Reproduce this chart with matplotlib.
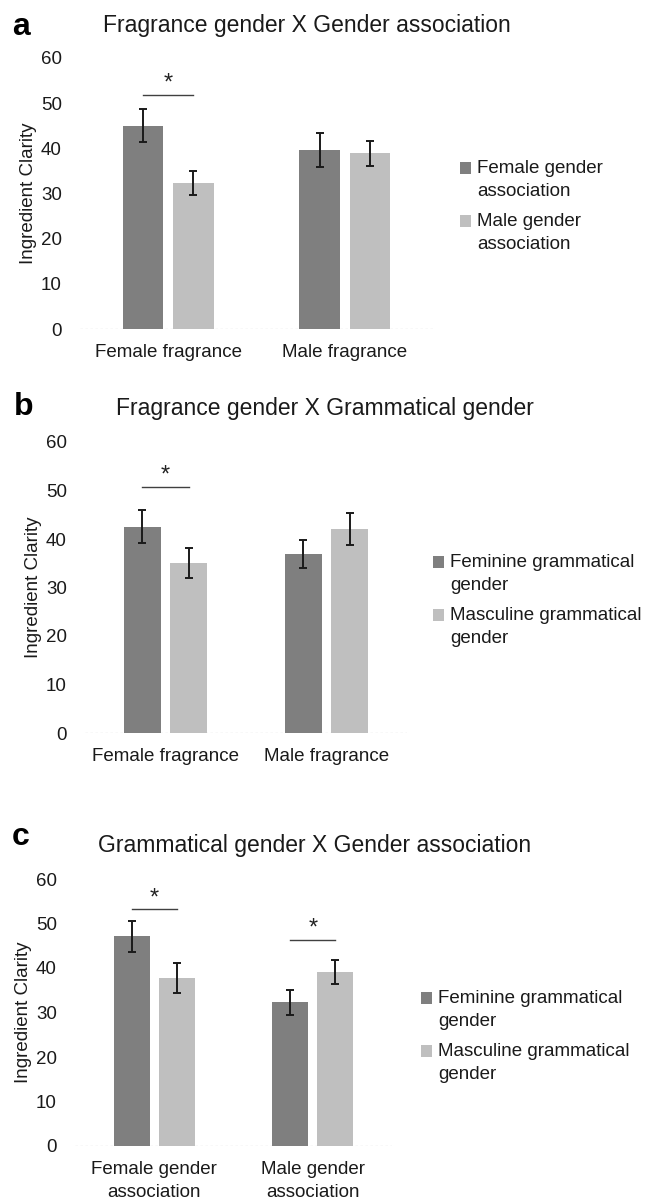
import matplotlib
matplotlib.use("Agg")
import matplotlib.pyplot as plt
from matplotlib.patches import Rectangle
from matplotlib.legend_handler import HandlerPatch
import numpy as np

plt.rcParams['font.family'] = ['Liberation Sans', 'DejaVu Sans']

W, H = 646, 1201
DARK = '#7f7f7f'
LIGHT = '#bfbfbf'

# panel a
a_cats = ['Female fragrance', 'Male fragrance']
a_labels = ['Female gender\nassociation', 'Male gender\nassociation']
a_dark = [45.0, 39.6]
a_dark_err = [3.6, 3.7]
a_light = [32.3, 38.9]
a_light_err = [2.6, 2.8]
a_sig = [(0, 51.9)]

# panel b
b_cats = ['Female fragrance', 'Male fragrance']
b_labels = ['Feminine grammatical\ngender', 'Masculine grammatical\ngender']
b_dark = [42.5, 36.9]
b_dark_err = [3.4, 2.9]
b_light = [35.0, 42.1]
b_light_err = [3.1, 3.3]
b_sig = [(0, 50.7)]

# panel c
c_cats = ['Female gender\nassociation', 'Male gender\nassociation']
c_labels = ['Feminine grammatical\ngender', 'Masculine grammatical\ngender']
c_dark = [47.1, 32.3]
c_dark_err = [3.4, 2.8]
c_light = [37.8, 39.2]
c_light_err = [3.4, 2.7]
c_sig = [(0, 53.2), (1, 46.4)]


def top_square(legend, orig_handle, xdescent, ydescent, width, height, fontsize):
    # square sits next to the first line of a two-line label
    return Rectangle((-xdescent, -ydescent + 0.62 * fontsize), width, height)


def panel(fig, box, cats, labels, dark, dark_err, light, light_err, sig,
          letter, title, title_xy, letter_xy, leg_xy):
    left, right, y0, y60 = box
    ax = fig.add_axes([left / W, 1 - y0 / H, (right - left) / W, (y0 - y60) / H])
    x = np.arange(len(cats))
    bw, off = 0.228, 0.143
    ax.axhline(0, color='#c8c8c8', lw=0.9, ls=(0, (2, 2)), zorder=0)
    b1 = ax.bar(x - off, dark, bw, color=DARK, zorder=2)
    b2 = ax.bar(x + off, light, bw, color=LIGHT, zorder=2)
    ax.errorbar(x - off, dark, yerr=dark_err, fmt='none', ecolor='#1a1a1a',
                elinewidth=1.4, capsize=3, capthick=1.4, zorder=3)
    ax.errorbar(x + off, light, yerr=light_err, fmt='none', ecolor='#1a1a1a',
                elinewidth=1.4, capsize=3, capthick=1.4, zorder=3)
    for ci, yv in sig:
        ax.plot([ci - off, ci + off], [yv, yv], color='#404040', lw=1.0, clip_on=False)
        ax.text(ci, yv + 2.4, '*', ha='center', va='center', fontsize=17, color='#222222')
    ax.set_xlim(-0.5, 1.5)
    ax.set_ylim(0, 60)
    ax.set_yticks(range(0, 61, 10))
    ax.set_xticks(x)
    ax.set_xticklabels(cats, fontsize=13.5, color='#1a1a1a', linespacing=1.45)
    ax.tick_params(axis='y', labelsize=13.5, labelcolor='#1a1a1a', length=0, pad=13)
    ax.tick_params(axis='x', length=0, pad=11)
    for s in ax.spines.values():
        s.set_visible(False)
    ax.set_ylabel('Ingredient Clarity', fontsize=13.5, color='#1a1a1a', labelpad=3)
    h1, h2 = b1.patches[0], b2.patches[0]
    leg = ax.legend([h1, h2], labels, loc='upper left',
                    bbox_to_anchor=(leg_xy[0] / W, 1 - leg_xy[1] / H),
                    bbox_transform=fig.transFigure, frameon=False, fontsize=13.5, borderpad=0,
                    borderaxespad=0, handlelength=0.6, handleheight=0.6, handletextpad=0.3,
                    labelspacing=0.7, labelcolor='#1a1a1a',
                    handler_map={h1: HandlerPatch(patch_func=top_square),
                                 h2: HandlerPatch(patch_func=top_square)})
    for t in leg.get_texts():
        t.set_linespacing(1.45)
    fig.text(title_xy[0] / W, 1 - title_xy[1] / H, title, fontsize=16.5, color='#1a1a1a',
             va='baseline', ha='left')
    fig.text(letter_xy[0] / W, 1 - letter_xy[1] / H, letter, fontsize=23, fontweight='bold',
             va='baseline', ha='left')
    return ax


fig = plt.figure(figsize=(W / 100, H / 100), dpi=100)

panel(fig, (80, 433, 329, 58), a_cats, a_labels, a_dark, a_dark_err, a_light, a_light_err,
      a_sig, 'a', 'Fragrance gender X Gender association', (103, 32), (12, 35), (460, 160))
panel(fig, (85, 407, 733, 442), b_cats, b_labels, b_dark, b_dark_err, b_light, b_light_err,
      b_sig, 'b', 'Fragrance gender X Grammatical gender', (116, 415), (14, 415), (433, 554))
panel(fig, (75, 392, 1146, 879), c_cats, c_labels, c_dark, c_dark_err, c_light, c_light_err,
      c_sig, 'c', 'Grammatical gender X Gender association', (98, 852), (12, 845), (421, 990))

fig.savefig('out.png', dpi=100, facecolor='white')
